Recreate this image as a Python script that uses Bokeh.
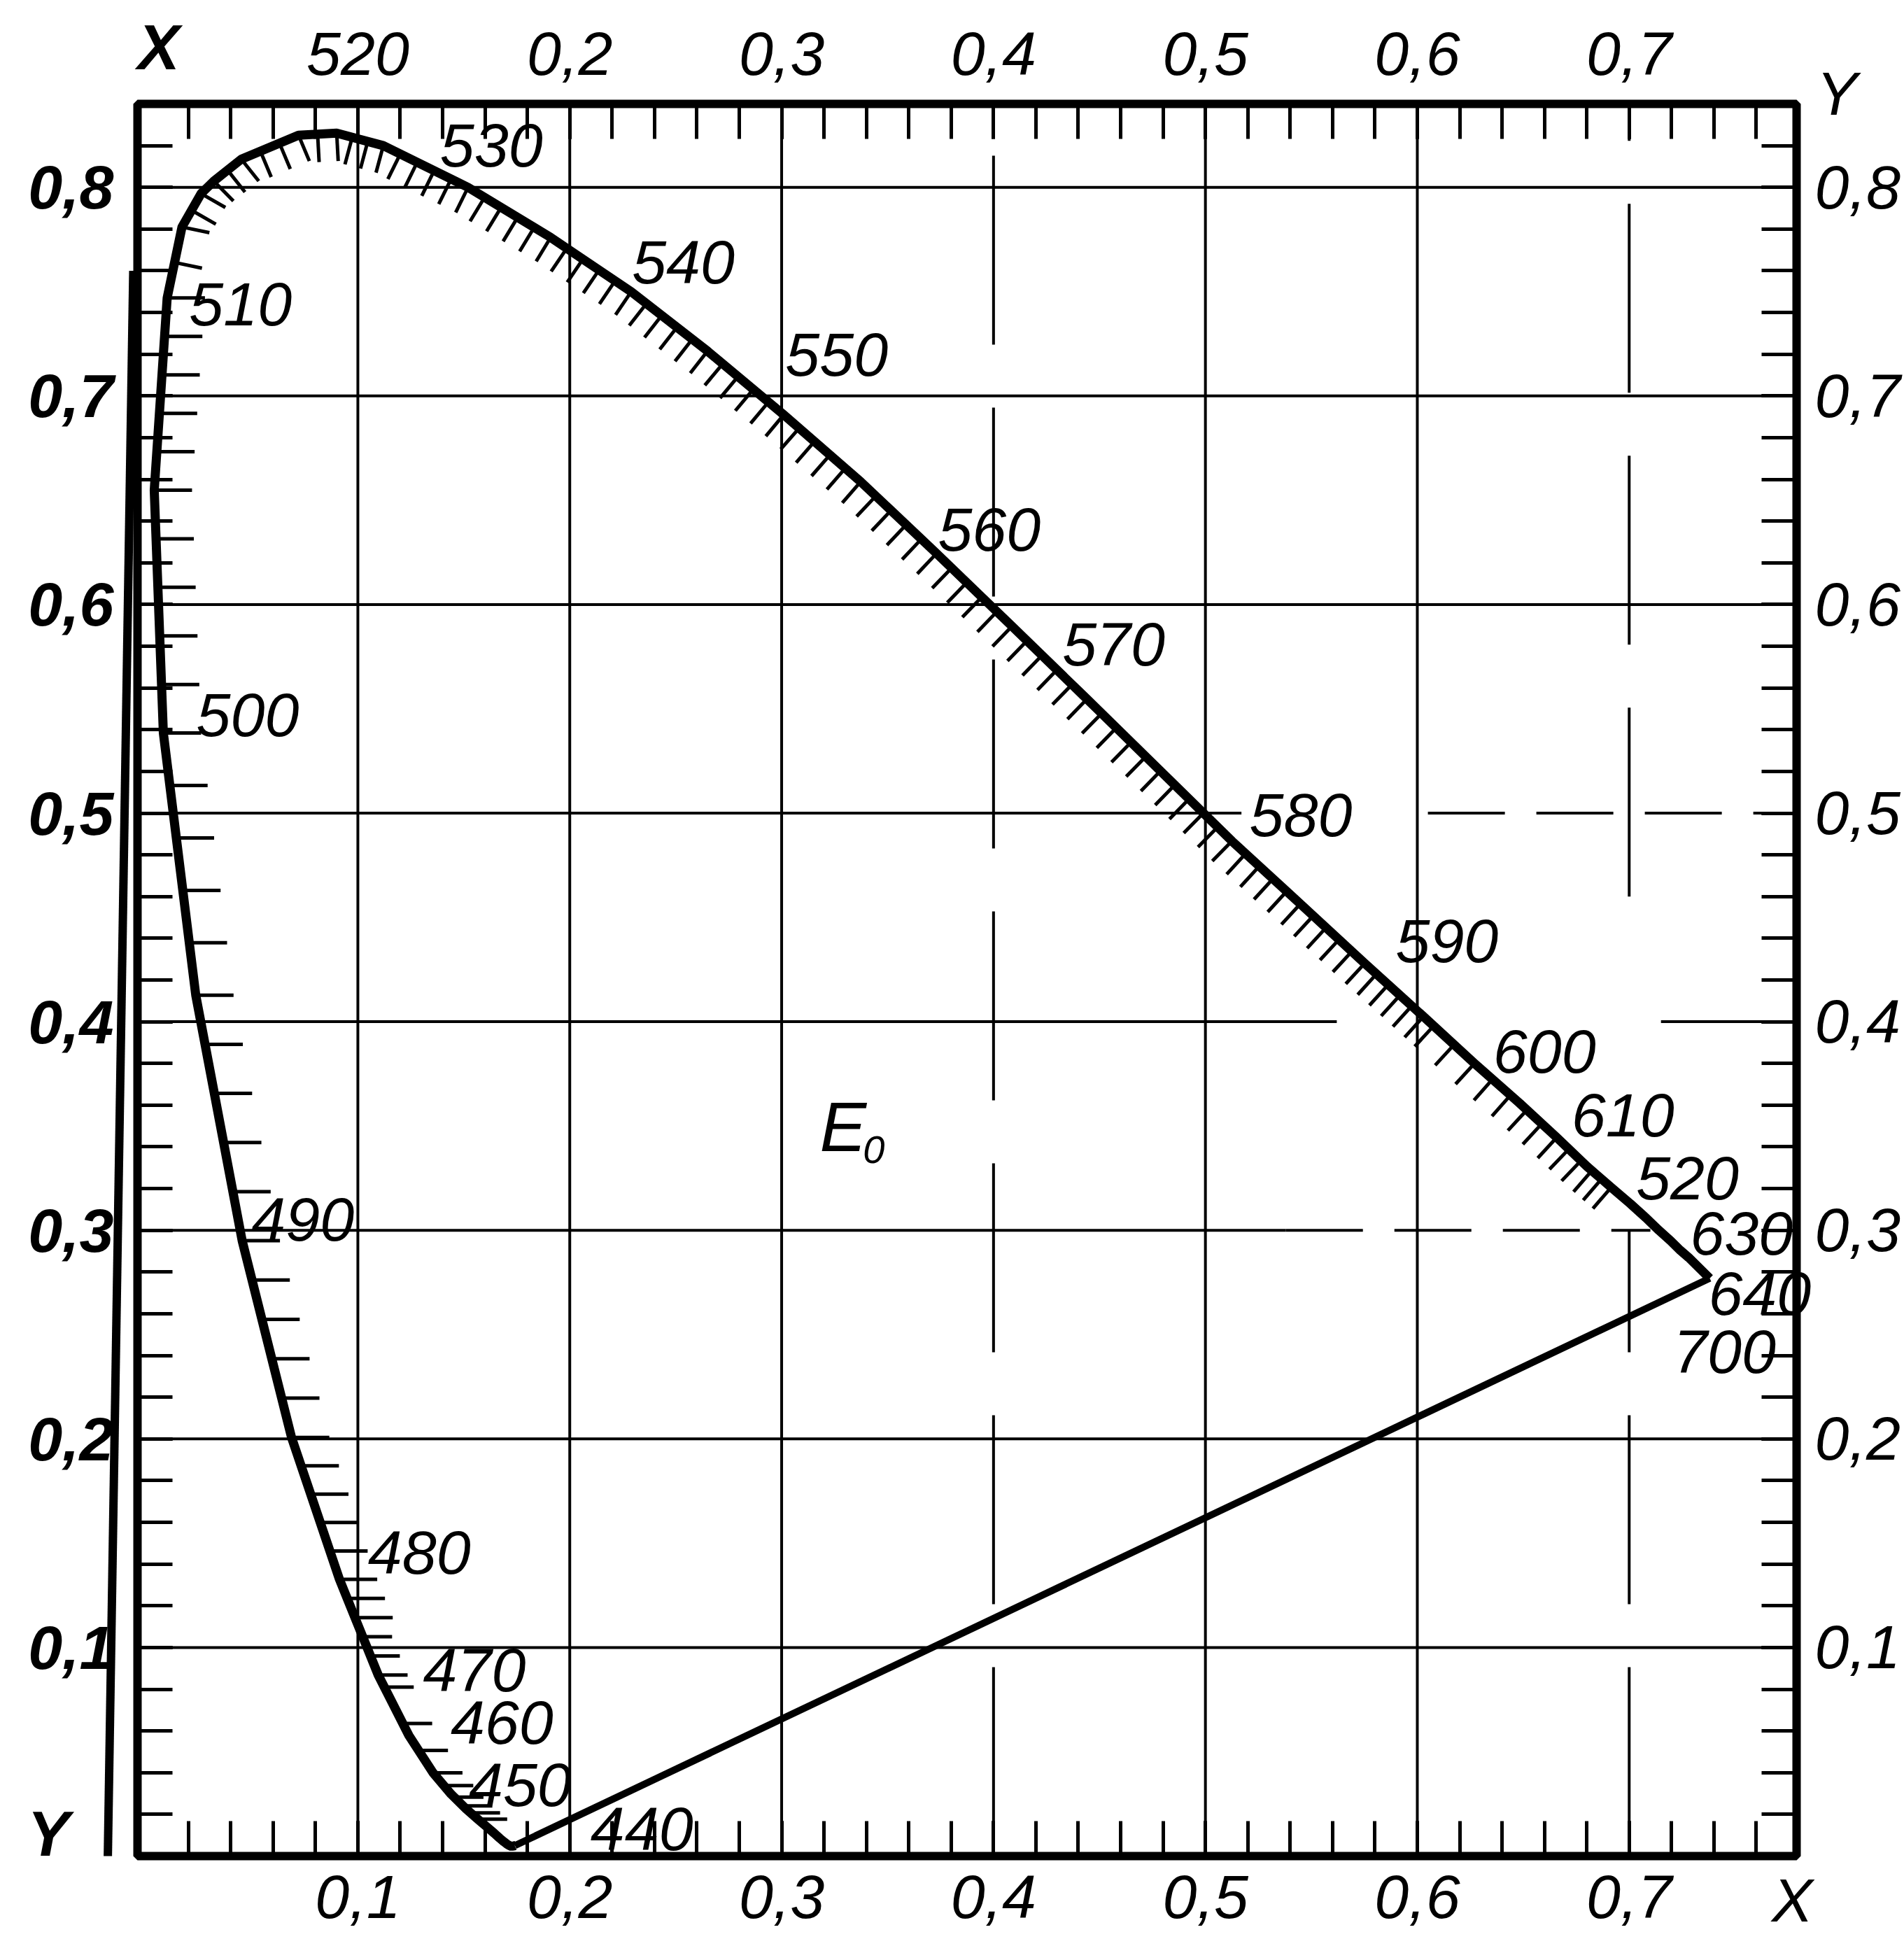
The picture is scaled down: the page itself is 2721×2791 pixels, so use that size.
from bokeh.plotting import figure
from bokeh.models import Range1d, FixedTicker, LinearAxis
from bokeh.embed import file_html
from bokeh.resources import INLINE
from bokeh.core.properties import value
import math

# ---------------- data ----------------
wavelength = [380, 385, 390, 395, 400, 405, 410, 415, 420, 425, 430, 435, 440, 445,
              450, 455, 460, 465, 470, 475, 480, 485, 490, 495, 500, 505, 510, 512,
              514, 515, 517, 520, 522, 525, 530, 535, 540, 545, 550, 555, 560, 565,
              570, 575, 580, 585, 590, 595, 600, 605, 610, 615, 620, 625, 630, 635,
              640, 645, 650, 660, 680, 700]
x_chrom = [0.1741, 0.1740, 0.1738, 0.1736, 0.1733, 0.1730, 0.1726, 0.1721, 0.1714, 0.1703,
           0.1689, 0.1669, 0.1644, 0.1611, 0.1566, 0.1510, 0.1440, 0.1355, 0.1241, 0.1096,
           0.0913, 0.0687, 0.0454, 0.0235, 0.0082, 0.0039, 0.0100, 0.0170,
           0.0260, 0.0320, 0.0450, 0.0720, 0.0900, 0.1120, 0.1520, 0.1910, 0.2290, 0.2650,
           0.3010, 0.3373, 0.3731, 0.4087, 0.4441, 0.4788, 0.5125, 0.5448, 0.5752, 0.6029,
           0.6270, 0.6482, 0.6658, 0.6801, 0.6915, 0.7006, 0.7079, 0.7140, 0.7195, 0.7240,
           0.7280, 0.7330, 0.7365, 0.7380]
y_chrom = [0.0050, 0.0050, 0.0049, 0.0049, 0.0048, 0.0048, 0.0048, 0.0048, 0.0051, 0.0058,
           0.0069, 0.0086, 0.0109, 0.0138, 0.0177, 0.0227, 0.0297, 0.0399, 0.0578, 0.0868,
           0.1327, 0.2007, 0.2950, 0.4127, 0.5384, 0.6548, 0.7470, 0.7810,
           0.7970, 0.8030, 0.8135, 0.8250, 0.8260, 0.8200, 0.8000, 0.7760, 0.7500, 0.7215,
           0.6910, 0.6589, 0.6245, 0.5896, 0.5547, 0.5202, 0.4866, 0.4565, 0.4280, 0.4025,
           0.3800, 0.3610, 0.3445, 0.3306, 0.3206, 0.3127, 0.3060, 0.3000, 0.2950, 0.2905,
           0.2870, 0.2820, 0.2785, 0.2770]

# wavelength labels printed beside the locus (the scan prints "520" for 620)
wl_text = ["440", "450", "460", "470", "480", "490", "500", "510", "530", "540", "550",
           "560", "570", "580", "590", "600", "610", "520", "630", "640", "700"]
wl_text_x = [0.234, 0.1766, 0.168, 0.155, 0.129, 0.074, 0.048, 0.0446, 0.163, 0.2536, 0.326,
             0.398, 0.4567, 0.545, 0.614, 0.660, 0.697, 0.7275, 0.753, 0.7616, 0.745]
wl_text_y = [0.013, 0.034, 0.064, 0.089, 0.1455, 0.305, 0.547, 0.744, 0.820, 0.764, 0.7196,
             0.636, 0.581, 0.499, 0.4385, 0.3857, 0.355, 0.325, 0.2985, 0.2697, 0.2416]

# equal-energy white point label
e0_x = [0.329]
e0_y = [0.3496]

# axis ticks and tick labels
x_ticks = [0.1, 0.2, 0.3, 0.4, 0.5, 0.6, 0.7]
x_tick_labels = ["0,1", "0,2", "0,3", "0,4", "0,5", "0,6", "0,7"]
top_tick_labels = ["520", "0,2", "0,3", "0,4", "0,5", "0,6", "0,7"]
y_ticks = [0.1, 0.2, 0.3, 0.4, 0.5, 0.6, 0.7, 0.8]
y_tick_labels = ["0,1", "0,2", "0,3", "0,4", "0,5", "0,6", "0,7", "0,8"]
x_minor = [0.02 * i for i in range(1, 39)]
y_minor = [0.02 * i for i in range(1, 42)]

# axis letters printed outside the frame
bold_letter_text = ["X", "Y"]
bold_letter_x = [0.006, -0.046]
bold_letter_y = [0.867, 0.0107]
thin_letter_text = ["Y", "X"]
thin_letter_x = [0.798, 0.777]
thin_letter_y = [0.845, -0.021]

# ---------------- layout / style ----------------
X0, X1 = -0.004, 0.779
Y0, Y1 = 0.0, 0.84
FW, FH = 2371, 2504          # frame size in px
BL, BT, BR, BB = 196, 148, 152, 133
SX, SY = FW / (X1 - X0), FH / (Y1 - Y0)
FONT = "Liberation Sans"
FS = "88px"

p = figure(width=BL + FW + BR, height=BT + FH + BB, output_backend="svg",
           toolbar_location=None, x_range=Range1d(X0, X1), y_range=Range1d(Y0, Y1),
           min_border_left=BL, min_border_right=BR, min_border_top=BT,
           min_border_bottom=BB, background_fill_color="white",
           border_fill_color="white")
p.outline_line_color = "black"
p.outline_line_width = 12
p.xgrid.visible = False
p.ygrid.visible = False

def style_axis(ax, labels_map, bold=False, standoff=25):
    ax.axis_line_color = None
    ax.major_tick_in = 50
    ax.major_tick_out = 0
    ax.minor_tick_in = 50
    ax.minor_tick_out = 0
    ax.major_tick_line_width = 5
    ax.minor_tick_line_width = 5
    ax.major_tick_line_color = "black"
    ax.minor_tick_line_color = "black"
    ax.major_label_text_font = FONT
    ax.major_label_text_font_size = FS
    ax.major_label_text_font_style = "bold italic" if bold else "italic"
    ax.major_label_text_color = "black"
    ax.major_label_standoff = standoff
    ax.major_label_overrides = labels_map

p.xaxis.ticker = FixedTicker(ticks=x_ticks, minor_ticks=x_minor)
p.yaxis.ticker = FixedTicker(ticks=y_ticks, minor_ticks=y_minor)
style_axis(p.xaxis[0], dict(zip(x_ticks, x_tick_labels)), standoff=28)
style_axis(p.yaxis[0], dict(zip(y_ticks, y_tick_labels)), bold=True, standoff=34)

top = LinearAxis(ticker=FixedTicker(ticks=x_ticks, minor_ticks=x_minor))
style_axis(top, dict(zip(x_ticks, top_tick_labels)), standoff=42)
p.add_layout(top, "above")
right = LinearAxis(ticker=FixedTicker(ticks=y_ticks, minor_ticks=y_minor))
style_axis(right, dict(zip(y_ticks, y_tick_labels)), standoff=26)
p.add_layout(right, "right")

# ---------------- grid (with the breaks / dashes of the original) ----------------
solid_v = [t for t in x_ticks if t not in (0.4, 0.7)]
p.segment(x0=solid_v, y0=[Y0] * len(solid_v), x1=solid_v, y1=[Y1] * len(solid_v),
          line_color="black", line_width=4)
dash_v_x = [0.4, 0.7, 0.7]
dash_v_y0 = [Y0, Y0, 0.46]
dash_v_y1 = [Y1, 0.30, Y1]
p.segment(x0=dash_v_x, y0=dash_v_y0, x1=dash_v_x, y1=dash_v_y1,
          line_color="black", line_width=4, line_dash="270 90")

solid_h = [t for t in y_ticks if t not in (0.3, 0.4, 0.5)]
p.segment(x0=[X0] * len(solid_h), y0=solid_h, x1=[X1] * len(solid_h), y1=solid_h,
          line_color="black", line_width=4)
part_h_y = [0.3, 0.4, 0.4, 0.5]
part_h_x0 = [X0, X0, 0.715, X0]
part_h_x1 = [0.538, 0.562, X1, 0.517]
p.segment(x0=part_h_x0, y0=part_h_y, x1=part_h_x1, y1=part_h_y,
          line_color="black", line_width=4)
dash_h_y = [0.3, 0.5]
dash_h_x0 = [0.538, 0.605]
dash_h_x1 = [0.71, X1]
p.segment(x0=dash_h_x0, y0=dash_h_y, x1=dash_h_x1, y1=dash_h_y,
          line_color="black", line_width=4, line_dash="110 45")

# ---------------- hatch marks along the locus (wavelength scale) ----------------
def locus_at(wl):
    for i in range(len(wavelength) - 1):
        a, b = wavelength[i], wavelength[i + 1]
        if a <= wl <= b:
            t = (wl - a) / (b - a)
            xx = x_chrom[i] + t * (x_chrom[i + 1] - x_chrom[i])
            yy = y_chrom[i] + t * (y_chrom[i + 1] - y_chrom[i])
            return xx, yy, (x_chrom[i + 1] - x_chrom[i]) * SX, (y_chrom[i + 1] - y_chrom[i]) * SY
    raise ValueError

hatch_wl = list(range(450, 475, 3)) + list(range(475, 596)) + list(range(596, 621, 2))
hx0, hy0, hx1, hy1 = [], [], [], []
for wl in hatch_wl:
    xx, yy, dx, dy = locus_at(wl)
    if wl < 511:
        nx, ny = 1.0, 0.0
        L = 54 if wl >= 478 else 42
    else:
        n = math.hypot(dx, dy)
        nx, ny = dy / n, -dx / n
        L = 40
    hx0.append(xx)
    hy0.append(yy)
    hx1.append(xx + nx * L / SX)
    hy1.append(yy + ny * L / SY)
p.segment(x0=hx0, y0=hy0, x1=hx1, y1=hy1, line_color="black", line_width=5)

# ---------------- spectral locus and purple line ----------------
p.line(x_chrom, y_chrom, line_color="black", line_width=13, line_join="round")
p.line([x_chrom[0], x_chrom[-1]], [y_chrom[0], y_chrom[-1]], line_color="black",
       line_width=10)

# stray outer rule of the original scan (left of the frame)
p.segment(x0=[-0.018], y0=[0.0], x1=[-0.006], y1=[0.76], line_color="black",
          line_width=12, level="overlay")

# ---------------- texts ----------------
p.text(x=wl_text_x, y=wl_text_y, text=wl_text, text_font=value(FONT),
       text_font_size=FS, text_font_style="italic", text_align="center",
       text_baseline="middle", text_color="black", level="overlay")
p.text(x=e0_x, y=e0_y, text=["E"], text_font=value(FONT), text_font_size="100px",
       text_font_style="italic", text_align="center", text_baseline="middle",
       level="overlay")
p.text(x=[e0_x[0] + 0.0145], y=[e0_y[0] - 0.011], text=["0"], text_font=value(FONT),
       text_font_size="56px", text_font_style="italic", text_align="center",
       text_baseline="middle", level="overlay")
p.text(x=bold_letter_x, y=bold_letter_y, text=bold_letter_text, text_font=value(FONT),
       text_font_size="90px", text_font_style="bold italic", text_align="center",
       text_baseline="middle", text_color="black", level="overlay")
p.text(x=thin_letter_x, y=thin_letter_y, text=thin_letter_text, text_font=value(FONT),
       text_font_size="88px", text_font_style="italic", text_align="center",
       text_baseline="middle", text_color="black", level="overlay")

open("out.html", "w").write(file_html(p, INLINE))
